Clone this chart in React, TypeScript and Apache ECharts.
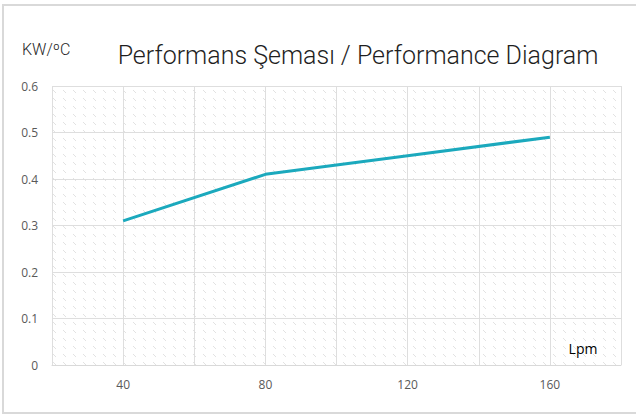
import React, { useEffect, useRef } from "react";
import * as echarts from "echarts";

const flowLpm = [40, 80, 120, 160];
const powerKw = [0.31, 0.41, 0.45, 0.49];
const xLabelsShown = [40, 80, 120, 160];
const titleText = "Performans Şeması / Performance Diagram";
const yUnit = "KW/ºC";
const xUnit = "Lpm";

function makeHatch(): HTMLCanvasElement {
  const c = document.createElement("canvas");
  c.width = 10;
  c.height = 8;
  const ctx = c.getContext("2d")!;
  ctx.fillStyle = "#ffffff";
  ctx.fillRect(0, 0, 10, 8);
  ctx.strokeStyle = "#e2e2e2";
  ctx.lineWidth = 1;
  ctx.beginPath();
  ctx.moveTo(3, 2);
  ctx.lineTo(6, 5);
  ctx.stroke();
  return c;
}

export default function App() {
  const ref = useRef<HTMLDivElement>(null);
  useEffect(() => {
    if (!ref.current) return;
    const chart = echarts.init(ref.current, null, { renderer: "svg" });
    const hatch = makeHatch();
    chart.setOption({
      animation: false,
      backgroundColor: "#ffffff",
      grid: {
        left: 52,
        right: 15,
        top: 86,
        bottom: 51,
        show: true,
        borderWidth: 0,
        backgroundColor: { image: hatch, repeat: "repeat" } as any,
      },
      graphic: [
        {
          type: "rect",
          shape: { x: 3, y: 5, width: 650, height: 408 },
          style: { fill: "none", stroke: "#d9d9d9", lineWidth: 2 },
          silent: true,
          z: -1,
        },
        {
          type: "text",
          x: 358,
          y: 55,
          style: {
            text: titleText,
            fontFamily: "Roboto",
            fontWeight: 300,
            fontSize: 25,
            fill: "#1f1f1f",
            align: "center",
            verticalAlign: "middle",
          },
        },
        {
          type: "text",
          x: 22,
          y: 49,
          style: {
            text: yUnit,
            fontFamily: "Roboto",
            fontWeight: 300,
            fontSize: 16,
            fill: "#1f1f1f",
            align: "left",
            verticalAlign: "middle",
          },
        },
        {
          type: "text",
          x: 583,
          y: 348,
          style: {
            text: xUnit,
            fontFamily: "Open Sans",
            fontSize: 14,
            fill: "#000000",
            align: "center",
            verticalAlign: "middle",
          },
        },
      ],
      xAxis: {
        type: "value",
        min: 20,
        max: 180,
        interval: 20,
        axisLine: { show: true, lineStyle: { color: "#d9d9d9", width: 1 } },
        axisTick: { show: false },
        axisLabel: {
          margin: 13,
          color: "#595959",
          fontFamily: "Open Sans",
          fontSize: 12,
          formatter: (v: number) => (xLabelsShown.includes(v) ? String(v) : ""),
        },
        splitLine: { show: true, lineStyle: { color: "#dedede", width: 1 } },
      },
      yAxis: {
        type: "value",
        min: 0,
        max: 0.6,
        interval: 0.1,
        axisLine: { show: false },
        axisTick: { show: false },
        axisLabel: {
          margin: 14,
          color: "#595959",
          fontFamily: "Open Sans",
          fontSize: 12,
          formatter: (v: number) => String(Math.round(v * 10) / 10),
        },
        splitLine: { show: true, lineStyle: { color: "#dedede", width: 1 } },
      },
      series: [
        {
          type: "line",
          data: flowLpm.map((x, i) => [x, powerKw[i]]),
          showSymbol: false,
          symbol: "none",
          lineStyle: { color: "#1ba9bd", width: 3 },
          z: 3,
        },
      ],
    });
    return () => chart.dispose();
  }, []);
  return (
    <div
      ref={ref}
      style={{ position: "fixed", left: 0, top: 0, width: 636, height: 416 }}
    />
  );
}
